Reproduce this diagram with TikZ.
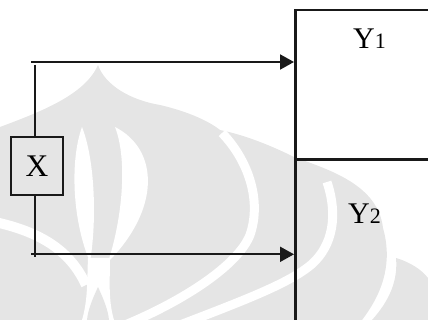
\documentclass[tikz,border=0pt]{standalone}
\usepackage{fontspec}
\setmainfont{Liberation Serif}
\usetikzlibrary{arrows.meta}
\definecolor{ink}{gray}{0.1}
\definecolor{wm}{gray}{0.9}
\begin{document}
\begin{tikzpicture}[x=1pt,y=-1pt,
  wire/.style={draw=ink,line width=2pt},
  arr/.style={wire,-{Triangle[length=14pt,width=15pt]}},
  blockbox/.style={draw=ink,line width=2.5pt,inner sep=0pt,anchor=north west,minimum width=150pt},
  xboxstyle/.style={draw=ink,line width=2.2pt,inner sep=0pt,minimum width=51.6pt,minimum height=58.5pt,font=\fontsize{31.5}{31.5}\selectfont},
  lbl/.style={inner sep=0pt,anchor=base,font=\fontsize{30}{30}\selectfont},
  band/.style={white,line width=9pt}]
\useasboundingbox (0,0) rectangle (428,320);
\clip (0,0) rectangle (428,320);

% faint emblem in the background
\fill[wm] (0,127) .. controls (40,112) and (85,95) .. (98,65)
  .. controls (105,85) and (130,100) .. (160,105)
  .. controls (190,112) and (210,122) .. (220,130)
  .. controls (250,136) and (280,150) .. (294,157)
  .. controls (330,170) and (378,185) .. (383,228)
  .. controls (392,260) and (385,290) .. (362,320)
  -- (0,320) -- cycle;
\fill[wm] (396,258) .. controls (410,262) and (422,270) .. (428,278)
  -- (428,320) -- (372,320) .. controls (390,300) and (398,280) .. cycle;
\draw[band] (222,133) .. controls (248,160) and (262,200) .. (250,235)
  .. controls (238,265) and (185,300) .. (125,325);
\draw[band] (327,182) .. controls (338,215) and (333,245) .. (312,264)
  .. controls (290,283) and (245,300) .. (180,325);
\fill[white] (82,127) .. controls (70,160) and (72,220) .. (90,262)
  .. controls (97,220) and (95,160) .. cycle;
\fill[white] (115,127) .. controls (160,150) and (160,210) .. (108,262)
  .. controls (122,220) and (128,160) .. cycle;
\fill[white] (88,258) -- (110,258) .. controls (110,280) and (108,300) .. (114,320)
  -- (82,320) .. controls (88,300) and (87,280) .. cycle;
\fill[wm] (98,287) .. controls (92,300) and (88,310) .. (87,320)
  -- (109,320) .. controls (108,310) and (104,300) .. cycle;
\draw[band,line width=10pt] (-5,222) .. controls (40,232) and (70,250) .. (86,285);

% output blocks
\node[blockbox,minimum height=149.5pt] (y1box) at (294,9) {};
\node[blockbox,minimum height=175pt] (y2box) at (294,158.5) {};
\node[lbl] (y1) at (369.5,48.3) {Y{\fontsize{22}{22}\selectfont 1}};
\node[lbl] (y2) at (364.5,223.3) {Y{\fontsize{22}{22}\selectfont 2}};

% input element and its two feeds
\node[xboxstyle] (xbox) at (37,166) {X};
\coordinate (vt) at (35.3,65);
\coordinate (vb) at (35.3,256.7);
\draw[wire] (vt) -- (vt |- xbox.north);
\draw[wire] (xbox.south -| vb) -- (vb);
\coordinate (a1) at (31,62);
\coordinate (a2) at (31,254.3);
\draw[arr] (a1) -- (a1 -| y1box.west);
\draw[arr] (a2) -- (a2 -| y2box.west);
\end{tikzpicture}
\end{document}
